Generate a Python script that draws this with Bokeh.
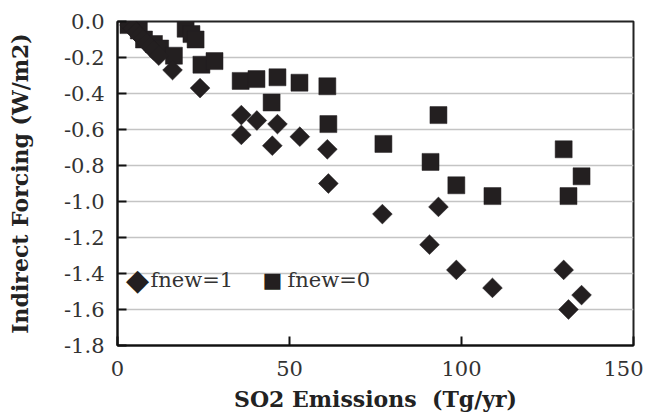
import math
from bokeh.plotting import figure
from bokeh.models import Range1d, FixedTicker, Label, ColumnDataSource
from bokeh.embed import file_html
from bokeh.resources import INLINE

# fnew=1 (diamonds)
fnew1_x = [3.5, 4.5, 5.5, 6.5, 7.5, 8.5, 9.5, 10.5, 12.0, 16.0, 24.0,
           36.0, 40.5, 46.5, 36.0, 45.0, 53.0, 61.0, 61.3,
           77.0, 93.3, 90.7, 98.5, 109.0, 129.7, 131.1, 134.9]
fnew1_y = [-0.02, -0.04, -0.06, -0.08, -0.10, -0.12, -0.14, -0.16, -0.19, -0.27, -0.37,
           -0.52, -0.55, -0.57, -0.63, -0.69, -0.64, -0.71, -0.90,
           -1.07, -1.03, -1.24, -1.38, -1.48, -1.38, -1.60, -1.52]

# fnew=0 (squares)
fnew0_x = [3.2, 6.2, 7.7, 10.6, 12.4, 16.4, 19.8, 21.5, 22.7, 24.4, 28.2,
           35.8, 40.4, 46.5, 52.9, 61.0, 44.8, 61.3,
           77.3, 91.0, 93.3, 98.5, 109.0, 129.7, 131.1, 134.9]
fnew0_y = [-0.02, -0.05, -0.10, -0.125, -0.15, -0.19, -0.04, -0.07, -0.10, -0.24, -0.22,
           -0.33, -0.32, -0.31, -0.34, -0.36, -0.45, -0.57,
           -0.68, -0.78, -0.52, -0.91, -0.97, -0.71, -0.97, -0.86]

x_ticks = [0, 50, 100, 150]
x_tick_labels = ["0", "50", "100", "150"]
y_ticks = [0.0, -0.2, -0.4, -0.6, -0.8, -1.0, -1.2, -1.4, -1.6, -1.8]
y_tick_labels = ["0.0", "-0.2", "-0.4", "-0.6", "-0.8", "-1.0", "-1.2", "-1.4", "-1.6", "-1.8"]

series_names = ["fnew=1", "fnew=0"]
series_symbols = ["\u25C6", "\u25A0"]

FONT = "DejaVu Serif"
MARK = "#231f20"
TXT = "#333333"

p = figure(frame_width=516, frame_height=324,
           min_border_left=117, min_border_top=21, min_border_right=10, min_border_bottom=52,
           x_range=Range1d(0, 150), y_range=Range1d(-1.8, 0),
           output_backend="svg", toolbar_location=None)

p.background_fill_color = "white"
p.border_fill_color = "white"
p.outline_line_color = "#222222"
p.outline_line_width = 2

p.xgrid.grid_line_color = None
p.ygrid.grid_line_color = "#c4c4c4"
p.ygrid.grid_line_width = 1.5
p.ygrid.ticker = FixedTicker(ticks=y_ticks)

for ax in (p.xaxis[0], p.yaxis[0]):
    ax.axis_line_color = "#111111"
    ax.axis_line_width = 2
    ax.major_tick_line_color = "#111111"
    ax.major_tick_line_width = 2
    ax.major_tick_in = 9
    ax.major_tick_out = 0
    ax.minor_tick_line_color = None
    ax.major_label_text_font = FONT
    ax.major_label_text_font_size = "21px"
    ax.major_label_text_color = TXT
    ax.axis_label_text_font = FONT
    ax.axis_label_text_font_size = "22px"
    ax.axis_label_text_font_style = "bold"
    ax.axis_label_text_color = "#222222"

p.xaxis.ticker = FixedTicker(ticks=x_ticks)
p.xaxis.major_label_overrides = {t: l for t, l in zip(x_ticks, x_tick_labels)}
p.yaxis.ticker = FixedTicker(ticks=y_ticks)
p.yaxis.major_label_overrides = {t: l for t, l in zip(y_ticks, y_tick_labels)}
p.xaxis.axis_label = "SO2 Emissions\u00a0 (Tg/yr)"
p.yaxis.axis_label = "Indirect Forcing (W/m2)"
p.xaxis.major_label_standoff = 15
p.xaxis.axis_label_standoff = 7
p.yaxis.major_label_standoff = 13
p.yaxis.axis_label_standoff = 28

src1 = ColumnDataSource(dict(x=fnew1_x, y=fnew1_y))
src0 = ColumnDataSource(dict(x=fnew0_x, y=fnew0_y))

r0 = p.scatter("x", "y", source=src0, marker="square", size=17,
               fill_color=MARK, line_color=MARK, line_width=0.5)
r1 = p.scatter("x", "y", source=src1, marker="square", size=14, angle=math.pi / 4,
               fill_color=MARK, line_color=MARK, line_width=0.5)

# legend (inside frame, screen offsets from the frame's bottom-left)
legend_sym_x = [20, 155]
legend_sym_size = ["30px", "21px"]
legend_txt_x = [33, 170]
legend_y = 66
for sym, size, name, sx, tx in zip(series_symbols, legend_sym_size, series_names,
                                   legend_sym_x, legend_txt_x):
    p.add_layout(Label(x=sx, y=legend_y, x_units="screen", y_units="screen", text=sym,
                       text_align="center", text_baseline="middle",
                       text_font="DejaVu Sans", text_font_size=size, text_color=MARK))
    p.add_layout(Label(x=tx, y=legend_y, x_units="screen", y_units="screen", text=name,
                       text_align="left", text_baseline="middle",
                       text_font=FONT, text_font_size="21px", text_color=TXT))

open("out.html", "w").write(file_html(p, INLINE))
